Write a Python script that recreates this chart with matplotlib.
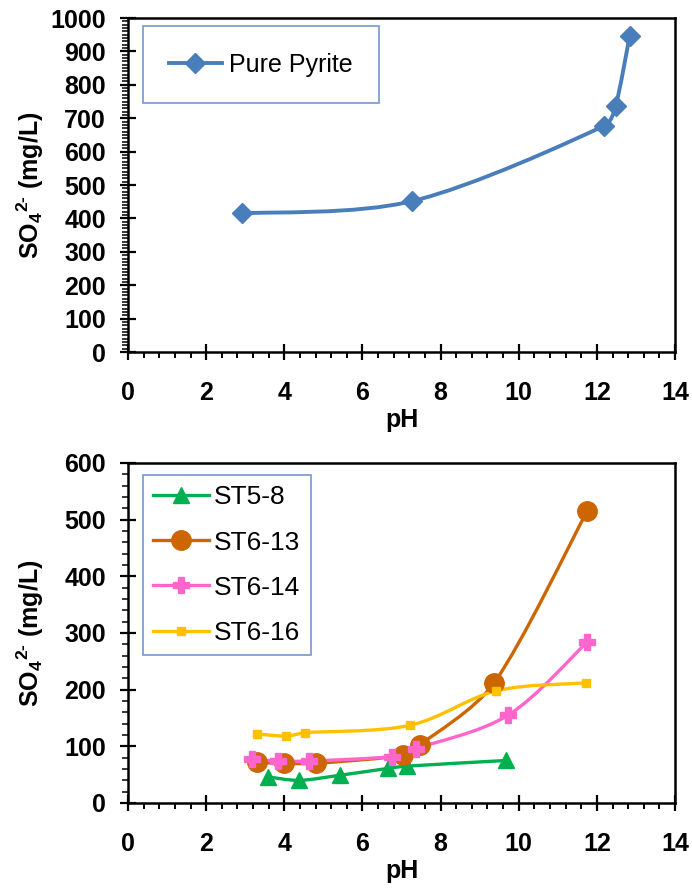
import numpy as np
import matplotlib
matplotlib.use("Agg")
import matplotlib.pyplot as plt
from matplotlib.path import Path
from matplotlib.patches import PathPatch
from matplotlib.lines import Line2D
from matplotlib.ticker import MultipleLocator

plt.rcParams['font.family'] = ['Liberation Sans', 'DejaVu Sans']
plt.rcParams['mathtext.fontset'] = 'custom'
plt.rcParams['mathtext.rm'] = 'Liberation Sans:bold'
plt.rcParams['mathtext.bf'] = 'Liberation Sans:bold'
plt.rcParams['mathtext.default'] = 'bf'

# Pure pyrite
pyrite_ph = [2.91, 7.28, 12.18, 12.48, 12.84]
pyrite_so4 = [415, 452, 677, 737, 947]

# Samples
st58_ph = [3.59, 4.38, 5.43, 6.65, 7.13, 9.67]
st58_so4 = [46, 40, 49, 61, 65, 75]

st613_ph = [3.30, 4.00, 4.80, 7.04, 7.46, 9.37, 11.75]
st613_so4 = [72, 70, 70, 84, 102, 212, 515]

st614_ph = [3.18, 3.84, 4.64, 6.76, 7.37, 9.73, 11.75]
st614_so4 = [77, 74, 74, 82, 96, 155, 284]

st616_ph = [3.29, 4.05, 4.52, 7.21, 9.43, 11.73]
st616_so4 = [122, 118, 124, 137, 198, 212]

FS = 18


def smooth_path(ax, x, y):
    # bezier through the points, tangents from neighbours, worked out in pixels
    p = ax.transData.transform(np.column_stack([x, y]).astype(float))
    n = len(p)
    verts = [p[0]]
    codes = [Path.MOVETO]
    for i in range(n - 1):
        p0 = p[i - 1] if i > 0 else p[i]
        p3 = p[i + 2] if i + 2 < n else p[i + 1]
        seg = np.hypot(*(p[i + 1] - p[i]))
        a = (p[i + 1] - p0) / 6.0
        b = (p3 - p[i]) / 6.0
        # keep the handles short on short segments so the curve does not loop
        for v in (a, b):
            ln = np.hypot(*v)
            if ln > 0.35 * seg:
                v *= 0.35 * seg / ln
        verts += [p[i] + a, p[i + 1] - b, p[i + 1]]
        codes += [Path.CURVE4] * 3
    verts = ax.transData.inverted().transform(np.array(verts))
    return Path(verts, codes)


def draw_series(ax, x, y, color, lw, marker, ms, mew=1.0, label=None):
    ax.add_patch(PathPatch(smooth_path(ax, x, y), fill=False, edgecolor=color,
                           lw=lw, capstyle='round', joinstyle='round', zorder=2))
    ax.plot(x, y, ls='none', marker=marker, ms=ms, color=color, mew=mew,
            zorder=3)
    return Line2D([], [], color=color, lw=lw, marker=marker, ms=ms, mew=mew,
                  label=label)


def style_axes(ax, ymax, ymajor, yminor):
    ax.set_xlim(0, 14)
    ax.set_ylim(0, ymax)
    ax.xaxis.set_major_locator(MultipleLocator(2))
    ax.xaxis.set_minor_locator(MultipleLocator(0.4))
    ax.yaxis.set_major_locator(MultipleLocator(ymajor))
    ax.yaxis.set_minor_locator(MultipleLocator(yminor))
    for s in ax.spines.values():
        s.set_linewidth(1.8)
    ax.tick_params(axis='both', which='major', direction='inout', length=12,
                   width=1.6, labelsize=FS)
    ax.tick_params(axis='x', which='major', pad=15)
    ax.tick_params(axis='y', which='major', pad=10)
    ax.tick_params(axis='x', which='minor', direction='out', length=4.5, width=1.4)
    ax.tick_params(axis='y', which='minor', direction='out', length=4, width=1.1)
    for lab in ax.get_xticklabels() + ax.get_yticklabels():
        lab.set_fontweight('bold')
    ax.set_xlabel('pH', fontsize=FS, fontweight='bold', labelpad=2)
    ax.set_ylabel(r'SO$_4$$^{2\text{-}}$ (mg/L)', fontsize=FS,
                  fontweight='bold')
    ax.yaxis.set_label_coords(-0.15, 0.5)


fig = plt.figure(figsize=(6.92, 8.96), dpi=100)

ax1 = fig.add_axes([0.185, 0.6071, 0.7905, 0.3728])
style_axes(ax1, 1000, 100, 10)
h = draw_series(ax1, pyrite_ph, pyrite_so4, '#4a7ebb', 2.8, 'D', 10.5,
                label='Pure Pyrite')
leg1 = ax1.legend(handles=[h], loc='upper left', fontsize=FS, fancybox=False,
                  borderpad=1.05, handlelength=2.1, handletextpad=0.3,
                  bbox_to_anchor=(0.027, 0.975), borderaxespad=0)
leg1.get_frame().set_edgecolor('#4f81bd')
leg1.get_frame().set_linewidth(1.2)

ax2 = fig.add_axes([0.185, 0.1038, 0.7905, 0.3795])
style_axes(ax2, 600, 100, 20)
handles = [
    draw_series(ax2, st58_ph, st58_so4, '#00b050', 2.4, '^', 12, label='ST5-8'),
    draw_series(ax2, st613_ph, st613_so4, '#cc6600', 2.4, 'o', 14, label='ST6-13'),
    draw_series(ax2, st614_ph, st614_so4, '#ff66cc', 2.4, 'P', 11, label='ST6-14'),
    draw_series(ax2, st616_ph, st616_so4, '#ffc000', 2.4, 's', 6, label='ST6-16'),
]
leg2 = ax2.legend(handles=handles, loc='upper left', fontsize=19, fancybox=False,
                  borderpad=0.4, labelspacing=0.8, handlelength=2.1,
                  handletextpad=0.2, bbox_to_anchor=(0.027, 0.965),
                  borderaxespad=0)
leg2.get_frame().set_edgecolor('#4f81bd')
leg2.get_frame().set_linewidth(1.2)

fig.savefig('out.png', dpi=100)
